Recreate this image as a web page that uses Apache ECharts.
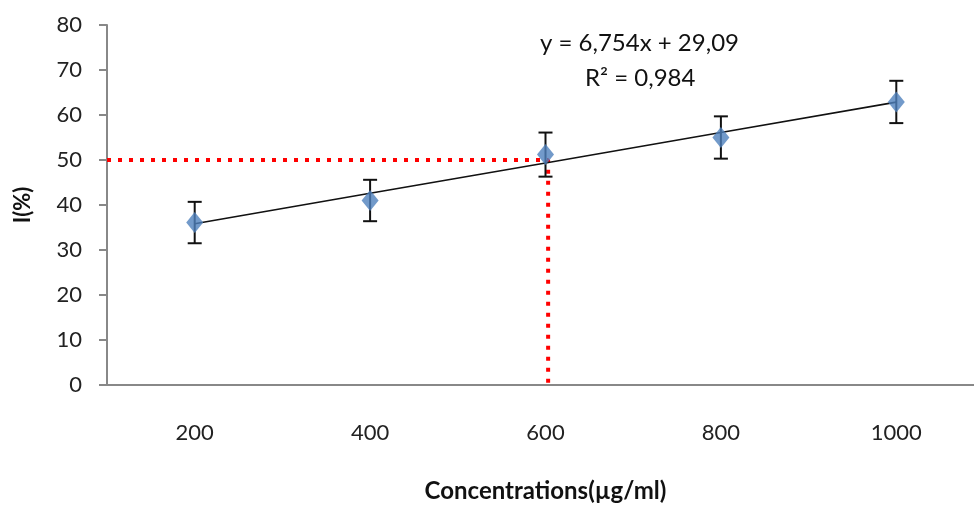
<!DOCTYPE html>
<html><head><meta charset="utf-8">
<script src="https://cdn.jsdelivr.net/npm/echarts@6/dist/echarts.min.js"></script>
<style>html,body{margin:0;padding:0;background:#fff;overflow:hidden}#c{width:990px;height:508px}</style>
</head><body><div id="c"></div>
<script>
const categories = ['200','400','600','800','1000'];
const values = [36.1, 41.0, 51.2, 55.0, 62.9];
const errors = [4.6, 4.6, 4.9, 4.7, 4.7];
const yTicks = [0,10,20,30,40,50,60,70,80];
const slope = 6.754, intercept = 29.09;
const trend = categories.map((c,i)=>[c, slope*(i+1)+intercept]);
const refLine = [[100,50],[603,50],[603,0]];
const eqText = 'y = 6,754x + 29,09';
const r2Text = 'R² = 0,984';

const font = 'Lato, "Open Sans", sans-serif';
const chart = echarts.init(document.getElementById('c'));
chart.setOption({
  animation:false,
  grid:{left:107, width:877, top:25, height:363, containLabel:false},
  xAxis:[{
    type:'category', data:categories, boundaryGap:true,
    axisLine:{lineStyle:{color:'#888',width:2}},
    axisTick:{show:false},
    axisLabel:{color:'#222', fontSize:22, fontFamily:font, margin:37},
    name:'Concentrations(µg/ml)', nameLocation:'middle', nameGap:94,
    nameTextStyle:{color:'#111', fontSize:24, fontWeight:'bold', fontFamily:font},
    splitLine:{show:false}
  },{
    type:'value', min:100, max:1100, show:false
  }],
  yAxis:{
    type:'value', min:0, max:80, interval:10,
    axisLine:{show:true, lineStyle:{color:'#888',width:2}},
    axisTick:{show:true, length:8, lineStyle:{color:'#888',width:2}},
    axisLabel:{color:'#222', fontSize:22, fontFamily:font, margin:25,
      formatter:v=>yTicks.includes(v)?String(v):''},
    splitLine:{show:false},
    name:'I(%)', nameLocation:'middle', nameGap:73, nameRotate:90,
    nameTextStyle:{color:'#111', fontSize:22, fontWeight:'bold', fontFamily:font}
  },
  series:[
    {type:'line', xAxisIndex:1, data:refLine, symbol:'none', z:1,
     lineStyle:{color:'#ff0000', width:4, type:[4,7]}},
    {type:'line', data:trend, symbol:'none', z:2,
     lineStyle:{color:'#111', width:1.6}},
    {type:'custom', z:3,
     renderItem:(params, api)=>{
       const i = api.value(0);
       const hi = api.coord([i, api.value(1)+api.value(2)]);
       const lo = api.coord([i, api.value(1)-api.value(2)]);
       const w = 7;
       const st = {stroke:'#111', lineWidth:2};
       return {type:'group', children:[
         {type:'line', shape:{x1:hi[0],y1:hi[1],x2:lo[0],y2:lo[1]}, style:st},
         {type:'line', shape:{x1:hi[0]-w,y1:hi[1],x2:hi[0]+w,y2:hi[1]}, style:st},
         {type:'line', shape:{x1:lo[0]-w,y1:lo[1],x2:lo[0]+w,y2:lo[1]}, style:st}
       ]};
     },
     data: values.map((v,i)=>[i, v, errors[i]])},
    {type:'scatter', data:values, symbol:'diamond', symbolSize:[17,21], z:4,
     itemStyle:{color:'#4F81BD'}}
  ],
  graphic:[
    {type:'text', left:540, top:31, style:{text:eqText, fill:'#111', fontSize:24, fontFamily:font}},
    {type:'text', left:585, top:66, style:{text:r2Text, fill:'#111', fontSize:24, fontFamily:font}}
  ]
});
</script></body></html>
